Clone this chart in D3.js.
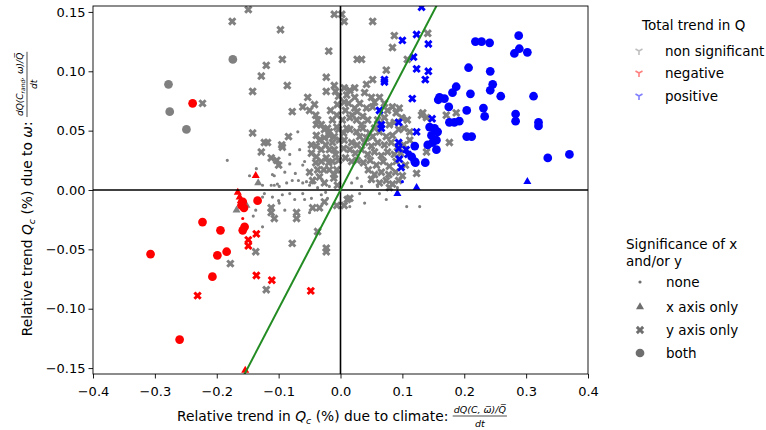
<!DOCTYPE html>
<html><head><meta charset="utf-8">
<script src="https://cdn.jsdelivr.net/npm/d3@7"></script>
<style>body{margin:0;background:#fff} text{font-family:"DejaVu Sans",sans-serif;fill:#000;white-space:pre}</style>
</head><body><svg id="c" width="766" height="430"></svg>
<script>
const xTicks=[-0.4,-0.3,-0.2,-0.1,0,0.1,0.2,0.3,0.4];
const yTicks=[-0.15,-0.1,-0.05,0,0.05,0.1,0.15];
const fitLine=[[-0.16,-0.16],[0.16,0.16]];

const greyX=[[-0.149,0.152],[-0.175,0.142],[-0.097,0.135],[-0.094,0.110],[-0.120,0.105],[-0.128,0.096],[-0.086,0.088],[-0.142,0.083],[-0.223,0.073],[-0.019,0.117],[-0.023,0.095],[-0.023,0.083],[-0.010,0.088],[-0.008,0.083],[-0.003,0.079],[0.006,0.086],[-0.010,0.148],[0.002,0.148],[0.006,0.142],[-0.053,0.078],[-0.061,0.070],[-0.050,0.067],[-0.042,0.072],[-0.078,0.066],[-0.040,0.063],[-0.037,0.059],[-0.039,0.055],[-0.031,0.055],[-0.026,0.051],[-0.021,0.052],[-0.018,0.049],[-0.006,0.053],[-0.006,0.063],[-0.142,0.048],[-0.123,0.040],[-0.118,0.040],[-0.095,0.038],[-0.094,0.036],[-0.084,0.045],[-0.128,0.032],[-0.112,0.027],[-0.103,0.025],[-0.100,0.021],[-0.047,0.038],[-0.039,0.037],[-0.047,0.031],[-0.039,0.028],[-0.031,0.024],[-0.039,0.046],[-0.026,0.044],[-0.018,0.046],[-0.010,0.045],[-0.050,0.015],[-0.037,0.017],[-0.034,0.011],[-0.045,0.008],[-0.026,0.006],[-0.018,0.034],[-0.008,0.030],[-0.013,0.024],[-0.006,0.017],[-0.018,0.017],[-0.011,0.010],[-0.005,0.004],[-0.023,0.027],[-0.013,0.040],[-0.005,0.072],[-0.013,0.059],[-0.002,0.042],
[0.052,0.142],[0.087,0.130],[0.141,0.132],[0.084,0.120],[0.027,0.110],[0.034,0.110],[0.074,0.101],[0.108,0.110],[0.052,0.093],[0.042,0.089],[0.023,0.086],[0.015,0.084],[0.010,0.080],[0.039,0.082],[0.050,0.078],[0.055,0.074],[0.063,0.078],[0.071,0.073],[0.052,0.070],[0.042,0.069],[0.076,0.067],[0.084,0.070],[0.095,0.069],[0.090,0.065],[0.099,0.061],[0.108,0.059],[0.103,0.052],[0.112,0.049],[0.027,0.066],[0.019,0.063],[0.015,0.061],[0.026,0.059],[0.036,0.062],[0.133,0.065],[0.139,0.061],[0.015,0.051],[0.026,0.049],[0.036,0.052],[0.047,0.048],[0.031,0.045],[0.042,0.044],[0.052,0.045],[0.063,0.049],[0.074,0.045],[0.084,0.046],[0.171,0.063],[0.187,0.065],[0.176,0.040],[0.112,0.042],[0.139,0.032],[0.123,0.014],[0.006,0.074],[0.008,0.067],[0.131,0.063],
[0.006,0.042],[0.018,0.040],[0.027,0.038],[0.039,0.040],[0.050,0.037],[0.060,0.040],[0.071,0.038],[0.082,0.040],[0.092,0.036],[0.102,0.038],[0.005,0.035],[0.015,0.034],[0.024,0.031],[0.034,0.034],[0.044,0.030],[0.055,0.032],[0.066,0.029],[0.076,0.032],[0.087,0.030],[0.097,0.031],[0.008,0.027],[0.018,0.024],[0.027,0.025],[0.037,0.023],[0.048,0.025],[0.058,0.021],[0.069,0.024],[0.079,0.020],[0.090,0.024],[0.105,0.021],[0.055,0.013],[0.066,0.015],[0.078,0.013],[0.089,0.015],[0.100,0.012],[0.050,0.009],[0.063,0.006],[0.074,0.008],[0.084,0.005],[0.094,0.008],[0.079,0.002],[0.045,0.017],
[-0.031,0.034],[-0.024,0.038],[-0.034,0.042],[-0.019,0.023],[-0.027,0.017],[-0.040,0.023],[-0.010,0.013],[-0.003,0.025],[-0.010,0.034],[-0.003,0.051],[-0.016,0.067],[0.003,0.059],[0.010,0.052],[0.005,0.048],[0.013,0.073],[0.023,0.078],[0.031,0.073],[0.023,0.069],[0.034,0.055],[0.044,0.059],[0.060,0.059],[0.071,0.061],[0.079,0.055],[0.087,0.057],[0.094,0.051],[0.063,0.055],[0.055,0.052],
[-0.178,-0.062],[-0.137,-0.052],[-0.120,-0.084],[-0.078,-0.045],[-0.037,-0.035],[-0.023,-0.049],[-0.023,-0.052],[-0.112,-0.019],[-0.112,-0.015],[-0.107,-0.024],[-0.071,-0.019],[-0.071,-0.024],[-0.045,-0.015],[-0.034,-0.015],[-0.026,-0.010],[-0.006,-0.013],[0.011,-0.008],[0.015,-0.007],[0.006,-0.013]];
const greyDot=[[-0.183,0.025],[-0.069,0.049],[-0.082,0.022],[-0.061,0.021],[-0.107,0.012],[-0.073,0.014],[-0.102,0.005],[-0.087,0.006],[-0.078,0.008],[-0.094,-0.004],[-0.136,0.018],[-0.110,0.013],[-0.058,0.024],[-0.107,0.004],[-0.068,0.008],[-0.061,0.006],[-0.055,0.007],[-0.050,0.004],[-0.099,0.003],[-0.123,-0.003],[-0.126,-0.006],[-0.110,-0.006],[-0.100,-0.009],[-0.110,-0.014],[-0.047,-0.007],[-0.058,-0.008],[-0.031,-0.004],[-0.021,-0.007],[-0.024,-0.002],[-0.099,-0.011],[-0.137,-0.017],[-0.141,-0.022],[-0.126,-0.031],[-0.050,-0.019],[-0.061,-0.003],[-0.082,-0.003],[0.031,-0.003],[0.039,-0.011],[0.074,-0.008],[0.107,-0.014],[0.128,-0.014],[0.063,-0.003],[0.015,-0.014],[-0.037,0.002],[-0.126,0.004],[-0.112,0.004],[-0.045,0.006],[-0.029,0.008],[-0.090,0.015],[-0.147,0.012],[-0.042,0.010],[-0.074,-0.008],[-0.090,-0.017],[-0.018,0.003],[0.018,0.006],[0.027,0.010],[0.034,0.003],[0.047,0.007],[0.060,0.003],[0.082,0.006],[0.092,0.002],[-0.066,0.034],[-0.082,0.030]];
const greyTri=[[-0.133,0.006],[-0.168,-0.017],[-0.152,-0.013]];
const greyCircle=[[-0.278,0.089],[-0.276,0.066],[-0.249,0.051],[-0.174,0.110]];

const redDot=[[-0.158,-0.024]];
const redTri=[[-0.166,-0.002],[-0.163,-0.006],[-0.161,-0.009],[-0.137,0.012],[-0.154,-0.152]];
const redX=[[-0.149,-0.042],[-0.149,-0.047],[-0.136,-0.037],[-0.136,-0.072],[-0.111,-0.076],[-0.231,-0.089],[-0.048,-0.085]];
const redCircle=[[-0.307,-0.054],[-0.260,-0.126],[-0.223,-0.027],[-0.194,-0.034],[-0.199,-0.055],[-0.184,-0.052],[-0.207,-0.073],[-0.158,-0.034],[-0.155,-0.031],[-0.134,-0.009],[-0.239,0.073],[-0.158,-0.010],[-0.160,-0.013],[-0.156,-0.015]];

const blueDot=[[0.100,0.007]];
const blueTri=[[0.092,-0.003],[0.123,0.002],[0.302,0.007]];
const blueX=[[0.100,0.126],[0.123,0.131],[0.142,0.123],[0.118,0.112],[0.123,0.102],[0.142,0.100],[0.137,0.093],[0.071,0.093],[0.071,0.091],[0.116,0.077],[0.063,0.067],[0.148,0.060],[0.094,0.057],[0.066,0.055],[0.066,0.052],[0.123,0.049],[0.094,0.040],[0.094,0.035],[0.106,0.034],[0.109,0.030],[0.095,0.026],[0.098,0.019],[0.131,0.154]];
const blueCircle=[[0.288,0.130],[0.218,0.125],[0.228,0.125],[0.241,0.124],[0.281,0.115],[0.289,0.119],[0.302,0.116],[0.207,0.103],[0.242,0.100],[0.187,0.087],[0.181,0.082],[0.160,0.078],[0.168,0.077],[0.158,0.076],[0.210,0.081],[0.246,0.089],[0.242,0.084],[0.259,0.079],[0.312,0.079],[0.175,0.070],[0.204,0.067],[0.231,0.069],[0.233,0.062],[0.283,0.064],[0.283,0.058],[0.320,0.057],[0.320,0.054],[0.176,0.057],[0.184,0.057],[0.192,0.058],[0.204,0.045],[0.212,0.045],[0.335,0.027],[0.370,0.030],[0.144,0.053],[0.152,0.052],[0.157,0.049],[0.147,0.046],[0.155,0.042],[0.149,0.040],[0.141,0.038],[0.155,0.034],[0.120,0.037],[0.115,0.028],[0.120,0.024],[0.121,0.023],[0.137,0.023]];

const trendLabels=["non significant","negative","positive"];
const trendColors=["#808080","#ff0000","#0000ff"];
const sigLabels=["none","x axis only","y axis only","both"];

const svg=d3.select("#c");
const L=93,R=588,T=6,B=374;
const x=d3.scaleLinear().domain([-0.4,0.4]).range([L,R]);
const y=d3.scaleLinear().domain([-0.155,0.155]).range([B,T]);

svg.append("defs").append("clipPath").attr("id","clip").append("rect").attr("x",L).attr("y",T).attr("width",R-L).attr("height",B-T);
const plot=svg.append("g").attr("clip-path","url(#clip)");

const shapes={
  dot:d3.symbol().type(d3.symbolCircle).size(8),
  tri:d3.symbol().type(d3.symbolTriangle).size(28),
  X:d3.symbol().type(d3.symbolCross).size(44),
  circle:d3.symbol().type(d3.symbolCircle).size(60)
};
function draw(data,shape,color){
  plot.append("g").selectAll("path").data(data).join("path")
    .attr("d",shapes[shape]())
    .attr("transform",d=>`translate(${x(d[0])},${y(d[1])})`+(shape==="X"?" rotate(45)":""))
    .attr("fill",color);
}
draw(greyDot,"dot","#808080");draw(greyX,"X","#808080");draw(greyTri,"tri","#808080");draw(greyCircle,"circle","#808080");
draw(blueDot,"dot","#0000ff");draw(blueTri,"tri","#0000ff");draw(blueX,"X","#0000ff");draw(blueCircle,"circle","#0000ff");
draw(redDot,"dot","#ff0000");draw(redTri,"tri","#ff0000");draw(redX,"X","#ff0000");draw(redCircle,"circle","#ff0000");

// zero lines
plot.append("line").attr("x1",L).attr("x2",R).attr("y1",y(0)).attr("y2",y(0)).attr("stroke","#000").attr("stroke-width",1.6);
plot.append("line").attr("x1",x(0)).attr("x2",x(0)).attr("y1",T).attr("y2",B).attr("stroke","#000").attr("stroke-width",1.6);
// 1:1 line
plot.append("path").datum(fitLine).attr("d",d3.line().x(d=>x(d[0])).y(d=>y(d[1]))).attr("stroke","#228b22").attr("stroke-width",2).attr("fill","none");

// axes
const fmtX=d=>d3.format(".1f")(d);
const fmtY=d=>d3.format(".2f")(d);
const ax=svg.append("g").attr("transform",`translate(0,${B})`).call(d3.axisBottom(x).tickValues(xTicks).tickFormat(fmtX).tickSize(4.5).tickPadding(8));
const ay=svg.append("g").attr("transform",`translate(${L},0)`).call(d3.axisLeft(y).tickValues(yTicks).tickFormat(fmtY).tickSize(4.5).tickPadding(3));
[ax,ay].forEach(a=>{a.select(".domain").remove();a.selectAll("line").attr("stroke","#000").attr("stroke-width",0.9);a.selectAll("text").attr("font-size",13).attr("font-family","DejaVu Sans").attr("fill","#000");});
svg.append("rect").attr("x",L).attr("y",T).attr("width",R-L).attr("height",B-T).attr("fill","none").attr("stroke","#000").attr("stroke-width",0.9);

// x label
const FS=13.8;
const xl=svg.append("g");
const xm=xl.append("text").attr("y",421).attr("font-size",FS);
xm.append("tspan").text("Relative trend in ");
xm.append("tspan").attr("font-style","italic").text("Q");
xm.append("tspan").attr("font-style","italic").attr("font-size",9.5).attr("dy",2.5).text("c");
xm.append("tspan").attr("dy",-2.5).text(" (%) due to climate:\u00a0");
const xnum=xl.append("text").attr("y",413).attr("font-size",9.5).attr("font-style","italic").text("dQ(C, \u03c9\u0305)/Q\u0305");
const xden=xl.append("text").attr("y",426.5).attr("font-size",9.5).attr("font-style","italic").attr("text-anchor","middle").text("dt");
{
  const w1=xm.node().getComputedTextLength(), w2=xnum.node().getComputedTextLength();
  const x0=342-(w1+w2+2)/2;
  xm.attr("x",x0); xnum.attr("x",x0+w1+1); xden.attr("x",x0+w1+1+w2/2);
  xl.append("line").attr("x1",x0+w1).attr("x2",x0+w1+w2+2).attr("y1",416).attr("y2",416).attr("stroke","#000").attr("stroke-width",0.7);
}
// y label (rotated)
const yl=svg.append("g").attr("transform","translate(32,0) rotate(-90)");
const ym=yl.append("text").attr("y",0).attr("font-size",FS);
ym.append("tspan").text("Relative trend ");
ym.append("tspan").attr("font-style","italic").text("Q");
ym.append("tspan").attr("font-style","italic").attr("font-size",9.5).attr("dy",2.5).text("c");
ym.append("tspan").attr("dy",-2.5).text(" (%) due to ");
ym.append("tspan").attr("font-style","italic").text("\u03c9");
ym.append("tspan").text(":\u00a0");
const ynum=yl.append("text").attr("y",-9).attr("font-size",9).attr("font-style","italic");
ynum.append("tspan").text("dQ(C");
ynum.append("tspan").attr("font-size",6).attr("dy",1.5).text("rand");
ynum.append("tspan").attr("dy",-1.5).text(", \u03c9)/Q\u0305");
const yden=yl.append("text").attr("y",4.5).attr("font-size",9).attr("font-style","italic").attr("text-anchor","middle").text("dt");
{
  const w1=ym.node().getComputedTextLength(), w2=ynum.node().getComputedTextLength();
  const c=-194; const x0=c-(w1+w2+2)/2;
  ym.attr("x",x0); ynum.attr("x",x0+w1+1); yden.attr("x",x0+w1+1+w2/2);
  yl.append("line").attr("x1",x0+w1).attr("x2",x0+w1+w2+2).attr("y1",-5).attr("y2",-5).attr("stroke","#000").attr("stroke-width",0.7);
}

// legend 1
const lg1=svg.append("g");
lg1.append("text").attr("x",642).attr("y",30).attr("font-size",13.5).text("Total trend in Q");
trendLabels.forEach((t,i)=>{
  const yy=[51,73,96][i];
  lg1.append("path").attr("d","M0,0L0,4M0,0L-3.5,-2M0,0L3.5,-2").attr("transform",`translate(639,${yy})`).attr("stroke",trendColors[i]).attr("stroke-opacity",0.5).attr("stroke-width",1.6).attr("fill","none");
  lg1.append("text").attr("x",665).attr("y",yy+5).attr("font-size",13.5).text(t);
});
// legend 2
const lg2=svg.append("g");
lg2.append("text").attr("x",626).attr("y",249).attr("font-size",13.5).text("Significance of x");
lg2.append("text").attr("x",626).attr("y",266).attr("font-size",13.5).text("and/or y");
const sigShapes=["dot","tri","X","circle"];
sigLabels.forEach((t,i)=>{
  const yy=[282,307,330,353][i];
  lg2.append("path").attr("d",shapes[sigShapes[i]]()).attr("transform",`translate(640,${yy})`+(sigShapes[i]==="X"?" rotate(45)":"")).attr("fill","#555").attr("fill-opacity",0.85);
  lg2.append("text").attr("x",666).attr("y",yy+5).attr("font-size",13.5).text(t);
});
</script></body></html>
